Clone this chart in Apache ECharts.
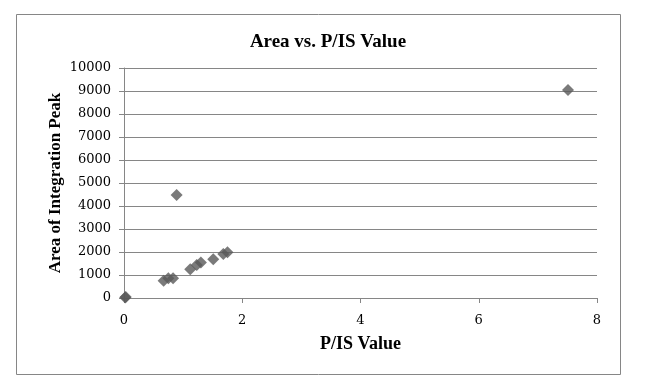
<!DOCTYPE html>
<html><head><meta charset="utf-8">
<script src="https://cdn.jsdelivr.net/npm/echarts@6/dist/echarts.min.js"></script>
<style>html,body{margin:0;padding:0;background:#fff}#c{width:656px;height:385px}</style>
</head><body><div id="c"></div>
<script>
const xValues = [0.02, 0.03, 0.67, 0.75, 0.83, 0.89, 1.12, 1.23, 1.30, 1.51, 1.68, 1.75, 7.51];
const yValues = [20, 40, 750, 860, 860, 4480, 1250, 1440, 1540, 1690, 1910, 1990, 9040];
const xTicks = [0, 2, 4, 6, 8];
const yTicks = [0,1000,2000,3000,4000,5000,6000,7000,8000,9000,10000];

const data = xValues.map((x, i) => [x, yValues[i]]);
const chart = echarts.init(document.getElementById('c'));
const serif = '"Liberation Serif", "DejaVu Serif", serif';
const tickFont = '"DejaVu Serif", serif';
chart.setOption({
  animation: false,
  title: {
    text: 'Area vs. P/IS Value', left: 'center', top: 28,
    textStyle: { fontFamily: serif, fontWeight: 'bold', fontSize: 19, color: '#000' }
  },
  graphic: [{
    type: 'rect', shape: { x: 16.5, y: 14.5, width: 604, height: 360 },
    style: { fill: 'none', stroke: '#868686', lineWidth: 1 }, z: -1
  }],
  grid: { left: 124, right: 59, top: 68, bottom: 87 },
  xAxis: {
    type: 'value', min: xTicks[0], max: xTicks[xTicks.length - 1], interval: 2,
    name: 'P/IS Value', nameLocation: 'middle', nameGap: 37,
    nameTextStyle: { fontFamily: serif, fontWeight: 'bold', fontSize: 18, color: '#000' },
    axisLine: { show: true, onZero: false, lineStyle: { color: '#868686' } },
    axisTick: { show: true, inside: false, length: 5, lineStyle: { color: '#868686' } },
    axisLabel: { fontFamily: tickFont, fontSize: 13, color: '#000', margin: 16, formatter: v => String(v) },
    splitLine: { show: false }
  },
  yAxis: {
    type: 'value', min: yTicks[0], max: yTicks[yTicks.length - 1], interval: 1000,
    name: 'Area of Integration Peak', nameLocation: 'middle', nameGap: 60, nameRotate: 90,
    nameMoveOverlap: false,
    nameTextStyle: { fontFamily: serif, fontWeight: 'bold', fontSize: 17, color: '#000' },
    axisLine: { show: true, onZero: false, lineStyle: { color: '#868686' } },
    axisTick: { show: true, inside: false, length: 5, lineStyle: { color: '#868686' } },
    axisLabel: { fontFamily: tickFont, fontSize: 13, color: '#000', margin: 13, formatter: v => String(v) },
    splitLine: { show: true, lineStyle: { color: '#868686', width: 1 } }
  },
  series: [{
    type: 'scatter', data: data, symbol: 'diamond', symbolSize: 12,
    itemStyle: { color: '#595959' }
  }]
});
</script></body></html>
